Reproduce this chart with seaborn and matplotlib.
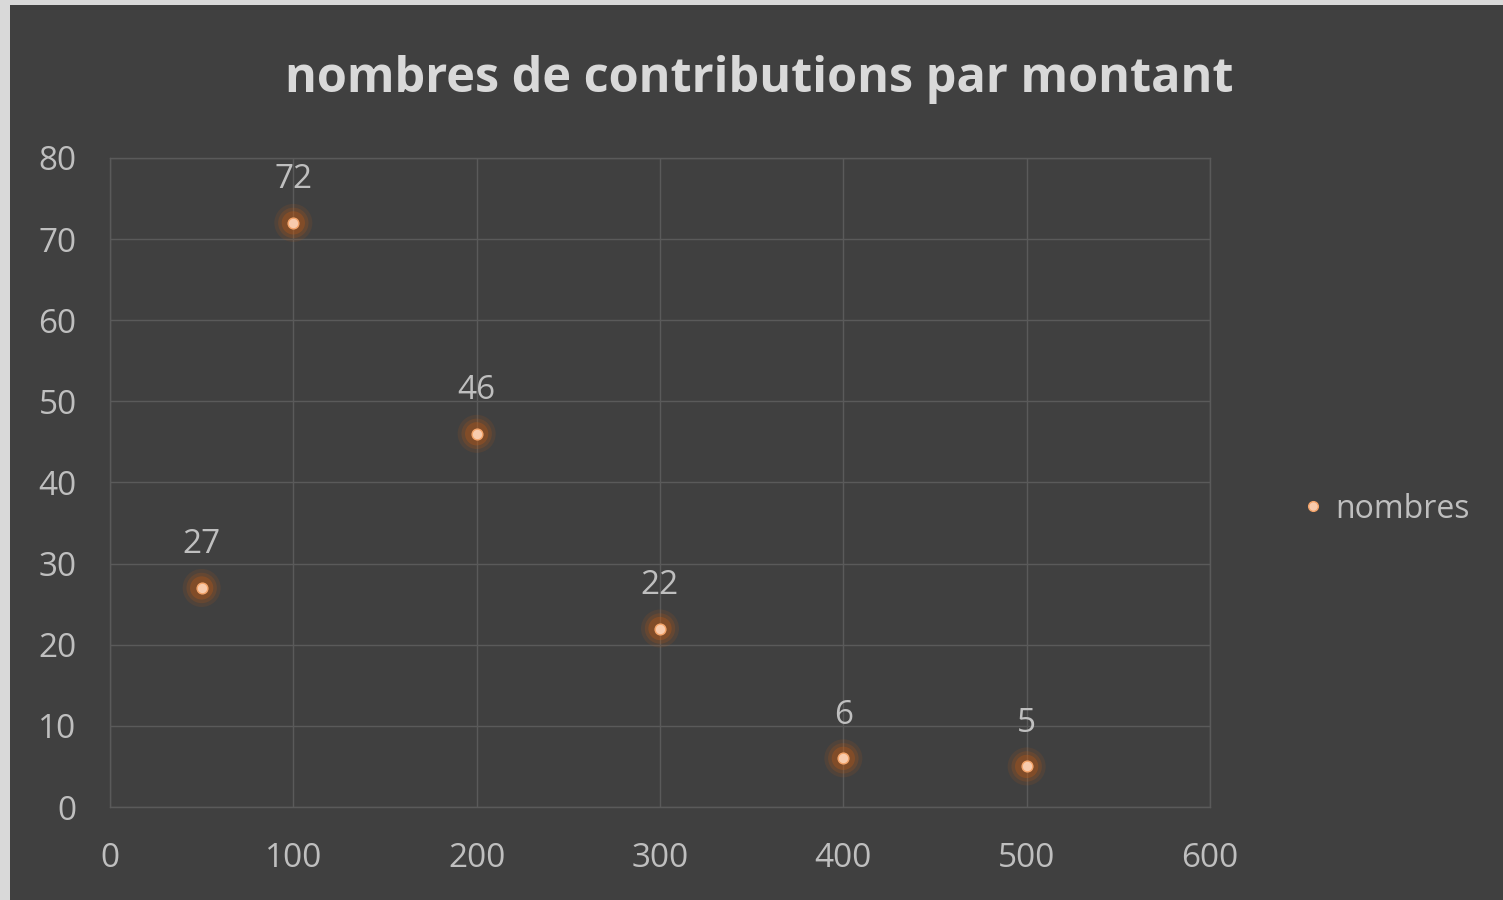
import matplotlib
matplotlib.use("Agg")
import matplotlib.pyplot as plt
import seaborn as sns
import pandas as pd
from matplotlib.patches import Rectangle
from matplotlib.lines import Line2D

# données
montants = [50, 100, 200, 300, 400, 500]
nombres = [27, 72, 46, 22, 6, 5]
x_ticks = [0, 100, 200, 300, 400, 500, 600]
y_ticks = [0, 10, 20, 30, 40, 50, 60, 70, 80]
titre = "nombres de contributions par montant"
serie = "nombres"

sns.set_style("dark")
plt.rcParams['font.family'] = ['Open Sans', 'DejaVu Sans']

bg = '#404040'
txt = '#bfbfbf'
grid = '#5a5a5a'

fig = plt.figure(figsize=(15.03, 9), dpi=100)
fig.patch.set_facecolor('#d9d9d9')
fig.patches.append(Rectangle((10 / 1503, 0), 1, 1 - 5 / 900, transform=fig.transFigure,
                             facecolor=bg, edgecolor='none', zorder=-5))
ax = fig.add_axes([110 / 1503, 1 - 807 / 900, 1100 / 1503, 649 / 900])
ax.set_facecolor(bg)

df = pd.DataFrame({'montant': montants, 'nombres': nombres})

# halo diffus autour des points
for taille, a in [(750, 0.12), (480, 0.18), (280, 0.30)]:
    sns.scatterplot(data=df, x='montant', y='nombres', ax=ax, s=taille, color='#c55a11',
                    alpha=a, edgecolor='none', legend=False, zorder=3)
sns.scatterplot(data=df, x='montant', y='nombres', ax=ax, s=60, color='#f8cbad',
                edgecolor='#f4a46a', linewidth=1.0, legend=False, zorder=4)

for xv, yv in zip(montants, nombres):
    ax.annotate(str(yv), (xv, yv), xytext=(0, 31), textcoords='offset points',
                ha='center', va='center', color=txt, fontsize=24)

ax.set_xlim(0, 600)
ax.set_ylim(0, 80)
ax.set_xticks(x_ticks)
ax.set_yticks(y_ticks)
ax.tick_params(colors=txt, labelsize=24, length=0)
ax.tick_params(axis='x', pad=25)
ax.tick_params(axis='y', pad=24)
ax.grid(True, color=grid, linewidth=1)
for s in ax.spines.values():
    s.set_color(grid)
    s.set_linewidth(1)
ax.set_xlabel('')
ax.set_ylabel('')

fig.text(759 / 1503, 1 - 80 / 900, titre, ha='center', va='center', color='#d9d9d9',
         fontsize=35, fontweight='bold')

handle = Line2D([], [], marker='o', linestyle='none', markersize=7,
                markerfacecolor='#f8cbad', markeredgecolor='#f4a46a')
fig.legend([handle], [serie], loc='center left', bbox_to_anchor=(1297 / 1503, 1 - 509 / 900),
           frameon=False, labelcolor=txt, fontsize=23, handlelength=1.0,
           handletextpad=0.2, borderpad=0, borderaxespad=0)

fig.savefig('out.png', dpi=100, facecolor=fig.get_facecolor())
